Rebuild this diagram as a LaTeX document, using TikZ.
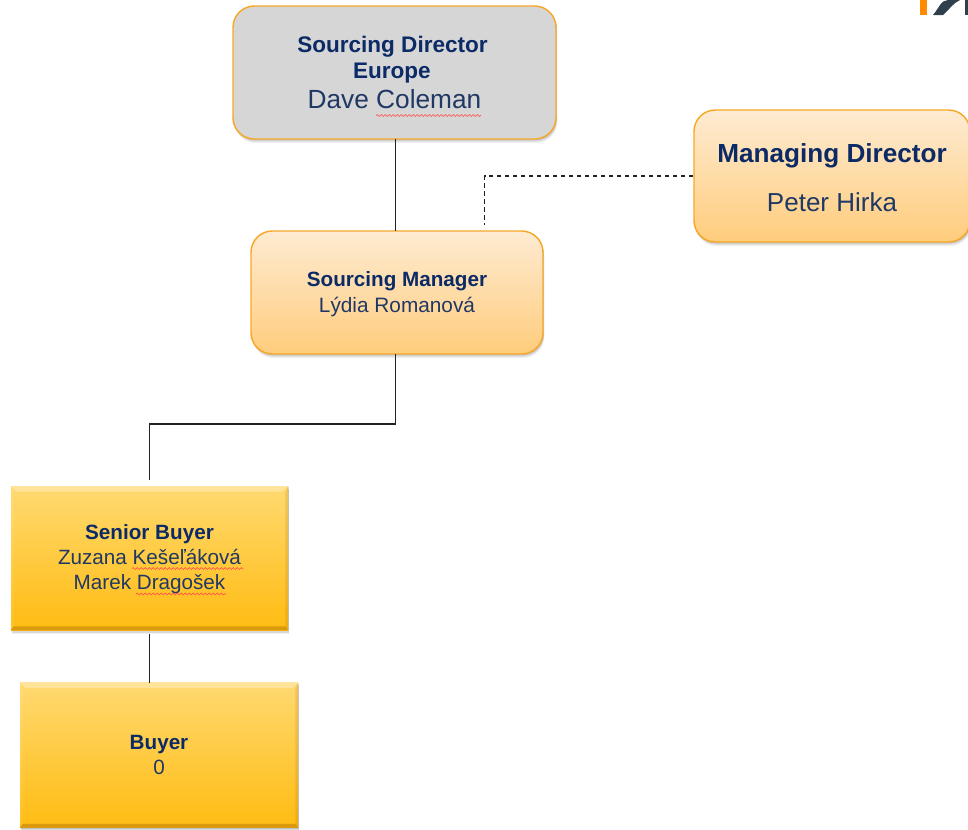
\documentclass[tikz,border=0pt]{standalone}
\usepackage{fontspec}
\setmainfont{Liberation Sans}
\usetikzlibrary{calc,shadows,decorations.pathmorphing}
\definecolor{titleblue}{HTML}{0B2A66}
\definecolor{nameblue}{HTML}{1F3864}
\definecolor{edgeorange}{HTML}{F7A829}
\definecolor{softtop}{HTML}{FEEBD2}
\definecolor{softbot}{HTML}{FFCC7C}
\definecolor{goldtop}{HTML}{FFD970}
\definecolor{goldbot}{HTML}{FFBC12}
\definecolor{linegrey}{HTML}{222222}
\definecolor{logodark}{HTML}{2F3F4C}
\tikzset{
  softshadow/.style={
    drop shadow={shadow xshift=.5pt,shadow yshift=-1pt,opacity=.1,fill=black},
    drop shadow={shadow xshift=.8pt,shadow yshift=-2pt,opacity=.1,fill=black},
    drop shadow={shadow xshift=1pt,shadow yshift=-3pt,opacity=.06,fill=black}},
  roundbox/.style={rounded corners=16pt,draw=edgeorange,line width=1.1pt,top color=softtop,bottom color=softbot,
    align=center,inner sep=0pt,text=nameblue,softshadow},
  greybox/.style={roundbox,top color=black!16,bottom color=black!16},
  goldbox/.style={draw=none,top color=goldtop,bottom color=goldbot,align=center,inner sep=0pt,text=nameblue,softshadow},
  link/.style={draw=linegrey,line width=.8pt},
  dashlink/.style={draw=linegrey,line width=.8pt,dash pattern=on 3.5pt off 2.5pt},
  spell/.style={draw=red!70!white,line width=.5pt,decorate,decoration={snake,amplitude=.7pt,segment length=3pt}},
}
\newcommand{\bevelbox}[1]{
  \fill[white,opacity=.3] (#1.north west) -- (#1.north east) -- ($(#1.north east)+(-6,6)$) -- ($(#1.north west)+(6,6)$) -- cycle;
  \fill[white,opacity=.08] (#1.north west) -- ($(#1.north west)+(3,6)$) -- ($(#1.south west)+(3,-4)$) -- (#1.south west) -- cycle;
  \fill[black!50!orange,opacity=.12] (#1.north east) -- ($(#1.north east)+(-3,6)$) -- ($(#1.south east)+(-3,-4)$) -- (#1.south east) -- cycle;
  \fill[black!50!orange,opacity=.28] (#1.south west) -- (#1.south east) -- ($(#1.south east)+(-3,-4)$) -- ($(#1.south west)+(3,-4)$) -- cycle;
}
\begin{document}
\begin{tikzpicture}[x=.75pt,y=-.75pt]
\useasboundingbox (0,0) rectangle (968,829);
\clip (0,0) rectangle (968,829);
% logo fragment
\fill[orange!90!yellow] (919.5,0) rectangle (926.5,15);
\fill[logodark] (933,15) .. controls (939,8) and (941,0) .. (948,0) -- (960,0) .. controls (953,3) and (949,10) .. (943,15) -- cycle;
\fill[logodark] (965,0) rectangle (968,15);
% boxes
\node[greybox,minimum width=242.25pt,minimum height=99.75pt] (dir) at (394.5,72.5)
 {\fontsize{16.9}{20}\selectfont\bfseries\color{titleblue}Sourcing Director\hspace*{3pt}\\[3pt]
  \fontsize{16.9}{20}\selectfont\bfseries\color{titleblue}Europe\hspace*{4pt}\\[4pt]
  \fontsize{19.7}{20}\selectfont\mdseries\color{nameblue}Dave Coleman};
\node[roundbox,minimum width=219pt,minimum height=92.25pt] (mgr) at (397,292.5)
 {\fontsize{15.5}{18}\selectfont\bfseries\color{titleblue}\rule{0pt}{14pt}Sourcing Manager\\[3.5pt]
  \fontsize{15.6}{18}\selectfont\mdseries\color{nameblue}Lýdia Romanová};
\node[roundbox,minimum width=207pt,minimum height=99pt] (md) at (832,176)
 {\fontsize{19.6}{24}\selectfont\bfseries\color{titleblue}\rule{0pt}{17pt}Managing Director\\[17.8pt]
  \fontsize{19.5}{24}\selectfont\mdseries\color{nameblue}Peter Hirka};
\node[goldbox,minimum width=207.75pt,minimum height=108pt] (sen) at (149.5,558)
 {\fontsize{15.5}{18.5}\selectfont\bfseries\color{titleblue}\rule{0pt}{13pt}Senior Buyer\\[3.2pt]
  \fontsize{15.5}{18.5}\selectfont\mdseries\color{nameblue}Zuzana Kešeľáková\\[6.2pt]
  \fontsize{15.5}{18.5}\selectfont\mdseries\color{nameblue}Marek Dragošek};
\node[goldbox,minimum width=208.5pt,minimum height=108.75pt] (buy) at (159,755)
 {\fontsize{15.5}{18.5}\selectfont\bfseries\color{titleblue}Buyer\\[4pt]
  \fontsize{15.5}{18.5}\selectfont\mdseries\color{nameblue}0};
\bevelbox{sen}
\bevelbox{buy}
% free connector ends
\coordinate (dirdrop) at (395.5,139);
\coordinate (mgrtop) at (395.5,231);
\coordinate (mgrout) at (395.5,354);
\coordinate (senin) at (149.8,480);
\coordinate (senout) at (149.8,634);
\coordinate (buyin) at (149.8,683);
\coordinate (dashend) at (484.5,225);
\draw[link] (dirdrop) -- (mgrtop);
\draw[link] (mgrout) |- (149.8,424) -- (senin);
\draw[link] (senout) -- (buyin);
\draw[dashlink] (md.west) -- (484.5,176) -- (dashend);
% spell-check underlines
\coordinate (s1a) at (376,115.5); \coordinate (s1b) at (481,115.5);
\coordinate (s2a) at (132,568.5); \coordinate (s2b) at (243,568.5);
\coordinate (s3a) at (136,594); \coordinate (s3b) at (226,594);
\draw[spell] (s1a) -- (s1b);
\draw[spell] (s2a) -- (s2b);
\draw[spell] (s3a) -- (s3b);
\end{tikzpicture}
\end{document}
